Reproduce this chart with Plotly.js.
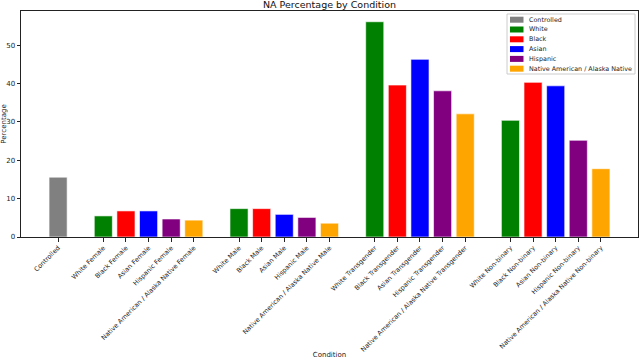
<!DOCTYPE html>
<html>
<head>
<meta charset="utf-8">
<script src="https://cdn.plot.ly/plotly-3.0.1.min.js"></script>
<style>
  html, body { margin: 0; padding: 0; background: #fff; }
  #plot { width: 640px; height: 359px; }
</style>
</head>
<body>
<div id="plot"></div>
<script>
// groups along the x axis, each group holds one bar per race
const groups = ["Female", "Male", "Transgender", "Non-binary"];
const races = ["White", "Black", "Asian", "Hispanic", "Native American / Alaska Native"];
const raceColors = ["green", "red", "blue", "purple", "orange"];

const controlledValue = 15.6;

// values per race, in the order of groups
const whiteValues = [5.5, 7.4, 56.1, 30.4];
const blackValues = [6.8, 7.4, 39.6, 40.3];
const asianValues = [6.8, 5.9, 46.3, 39.4];
const hispanicValues = [4.7, 5.1, 38.1, 25.2];
const nativeValues = [4.4, 3.6, 32.1, 17.8];

const raceValues = [whiteValues, blackValues, asianValues, hispanicValues, nativeValues];

// slot positions: Controlled at 0, then one empty slot between groups
function slot(g, r) {
    return 2 + g * (races.length + 1) + r;
}

let tickVals = [0];
let tickText = ["Controlled"];
groups.forEach((g, gi) => {
    races.forEach((r, ri) => {
        tickVals.push(slot(gi, ri));
        tickText.push(r + " " + g);
    });
});

const edge = {color: "rgba(255,255,255,0.6)", width: 1};

let data = [{
    x: [0],
    y: [controlledValue],
    type: "bar",
    name: "Controlled",
    width: 0.8,
    marker: {color: "gray", line: edge}
}];

races.forEach((r, ri) => {
    data.push({
        x: groups.map((g, gi) => slot(gi, ri)),
        y: raceValues[ri],
        type: "bar",
        name: r,
        width: 0.8,
        marker: {color: raceColors[ri], line: edge}
    });
});

// matplotlib style legend box (plotly's own legend rows are too tall here)
const plotL = 21, plotR = 638, plotT = 11, plotB = 237;
const px = x => (x - plotL) / (plotR - plotL);
const py = y => (plotB - y) / (plotB - plotT);

let shapes = [{
    type: "rect", xref: "paper", yref: "paper",
    x0: px(507), x1: px(635), y0: py(74), y1: py(14),
    fillcolor: "rgba(255,255,255,0.8)", line: {color: "#cccccc", width: 1}
}];
let annotations = [];
data.forEach((t, i) => {
    const cy = 19.7 + i * 9.8;
    shapes.push({
        type: "rect", xref: "paper", yref: "paper",
        x0: px(510), x1: px(523.5), y0: py(cy + 3), y1: py(cy - 3),
        fillcolor: t.marker.color, line: {width: 0}
    });
    annotations.push({
        xref: "paper", yref: "paper", x: px(527), y: py(cy),
        xanchor: "left", yanchor: "middle", showarrow: false,
        text: t.name, font: {size: 6.4, color: "#222"}
    });
});

let layout = {
    width: 640,
    height: 359,
    margin: {l: 21, r: 2, t: 11, b: 122},
    paper_bgcolor: "white",
    plot_bgcolor: "white",
    font: {family: "DejaVu Sans", size: 6.5, color: "#222"},
    title: {text: "NA Percentage by Condition", font: {size: 9.5, color: "#111"}, x: 0.5, xref: "paper", y: 0.995, yanchor: "top"},
    barmode: "overlay",
    showlegend: false,
    shapes: shapes,
    annotations: annotations,
    xaxis: {
        range: [-1.64, 25.64],
        tickmode: "array",
        tickvals: tickVals,
        ticktext: tickText,
        tickangle: -45,
        ticks: "outside",
        ticklen: 3.5,
        tickcolor: "#222",
        showline: true,
        linecolor: "#222",
        linewidth: 1,
        mirror: true,
        showgrid: false,
        zeroline: false,
        automargin: false,
        title: {text: "Condition", font: {size: 7}, standoff: 0}
    },
    yaxis: {
        range: [0, 58.9],
        tickvals: [0, 10, 20, 30, 40, 50],
        ticks: "outside",
        ticklen: 3.5,
        tickcolor: "#222",
        tickfont: {size: 7},
        showline: true,
        linecolor: "#222",
        linewidth: 1,
        mirror: true,
        showgrid: false,
        zeroline: false,
        automargin: false,
        title: {text: "Percentage", font: {size: 7}, standoff: 4}
    }
};

Plotly.newPlot("plot", data, layout, {displayModeBar: false});
</script>
</body>
</html>
